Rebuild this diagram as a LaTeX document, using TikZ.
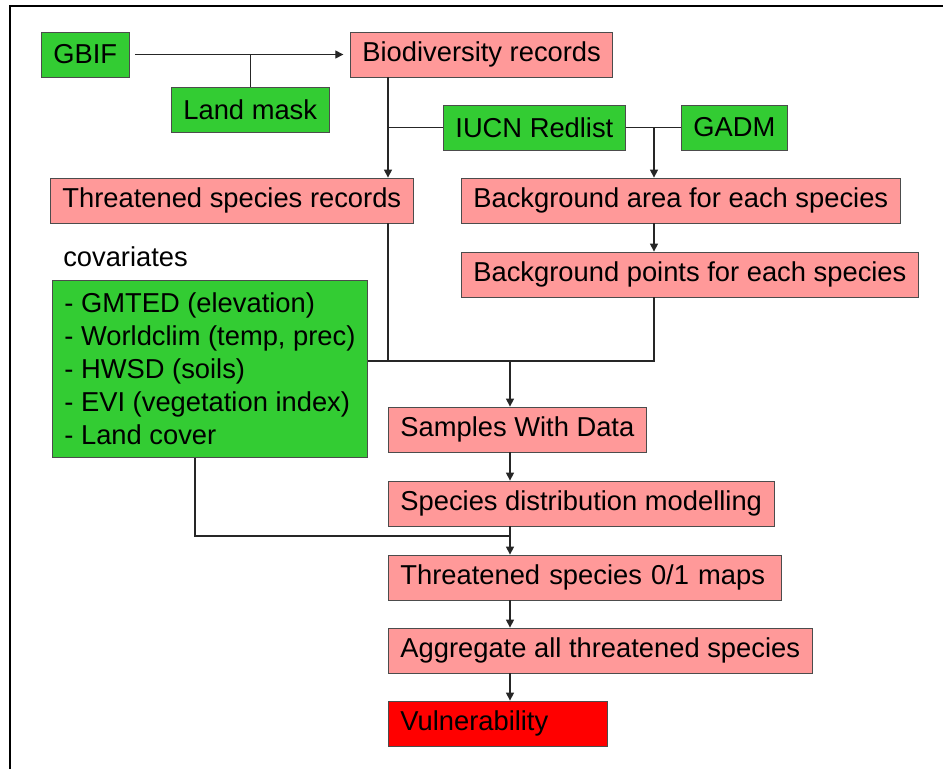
\documentclass[tikz,border=0pt]{standalone}
\usepackage{fontspec}
\setmainfont{Liberation Sans}
\usetikzlibrary{arrows.meta,positioning,calc}

\definecolor{srcgreen}{RGB}{51,204,51}
\definecolor{procpink}{RGB}{255,153,153}

\begin{document}
\begin{tikzpicture}[
    x=0.75pt, y=-0.75pt,
    font=\fontsize{20.5}{24.75}\selectfont,
    box/.style={draw=black!70, line width=0.6pt, anchor=west,
      minimum height=33.75pt, inner xsep=9pt, inner ysep=0pt},
    src/.style={box, fill=srcgreen},
    proc/.style={box, fill=procpink},
    res/.style={box, fill=red, text width=146pt},
    ln/.style={line width=0.9pt, draw=black!85},
    arr/.style={ln, -{Triangle[length=6pt,width=6pt]}},
  ]
  \useasboundingbox (0,0) rectangle (943,769);
  \draw[line width=1.5pt] (10,769) |- (943,6);

  % data sources and records
  \node[src] (gbif) at (41,54.5) {GBIF};
  \node[src] (mask) at (171,109.5) {Land mask};
  \node[proc] (bio) at (350,54.5) {Biodiversity records};
  \node[src] (iucn) at (443,127.5) {IUCN Redlist};
  \node[src] (gadm) at (681,127.5) {GADM};
  \node[proc] (trec) at (50,200.5) {Threatened species records};
  \node[proc] (barea) at (461,200.5) {Background area for each species};
  \node[proc] (bpts) at (461,274.5) {Background points for each species};

  % covariates
  \node[anchor=west, inner sep=0pt] (covlbl) at (63,257) {covariates};
  \node[src, anchor=north west, align=left, minimum height=132.75pt]
    (cov) at (52,280) {- GMTED (elevation)\\- Worldclim (temp, prec)\\- HWSD (soils)\\- EVI (vegetation index)\\- Land cover};

  % modelling chain
  \node[proc] (samples) at (388,429.5) {Samples With Data};
  \node[proc] (sdm) at (388,503.5) {Species distribution modelling};
  \node[proc, text width=276.75pt] (maps) at (388,577.5) {Threatened species 0/1 maps};
  \node[proc] (aggr) at (388,650.5) {Aggregate all threatened species};
  \node[res] (vuln) at (388,723.5) {Vulnerability};

  \coordinate (lbus) at (388,123);
  \coordinate (rbus) at (654,132);
  \coordinate (merge) at (510,361);
  \coordinate (covjoin) at (510,536);
  \coordinate (covdrop) at (195,0);

  \draw[arr, shorten <=4pt, shorten >=5pt] (gbif) -- (bio);
  \draw[ln] (mask.north) -- (mask.north |- gbif.east);
  \draw[arr] (bio.south -| lbus) -- (trec.north -| lbus);
  \draw[ln] (iucn.west) -- (iucn.west -| lbus);
  \draw[ln] (iucn.east) -- (gadm.west);
  \draw[arr] (iucn.east -| rbus) -- (barea.north -| rbus);
  \draw[arr] (barea.south -| rbus) -- (bpts.north -| rbus);
  \draw[ln] (trec.south -| lbus) -- (lbus |- merge);
  \draw[ln] (cov.east |- merge) -- (merge -| rbus) -- (bpts.south -| rbus);
  \draw[arr] (merge) -- (samples.north -| merge);
  \draw[arr] (samples.south -| merge) -- (sdm.north -| merge);
  \draw[arr] (sdm.south -| merge) -- (maps.north -| merge);
  \draw[ln] (cov.south -| covdrop) |- (covjoin);
  \draw[arr] (maps.south -| merge) -- (aggr.north -| merge);
  \draw[arr] (aggr.south -| merge) -- (vuln.north -| merge);
\end{tikzpicture}
\end{document}
